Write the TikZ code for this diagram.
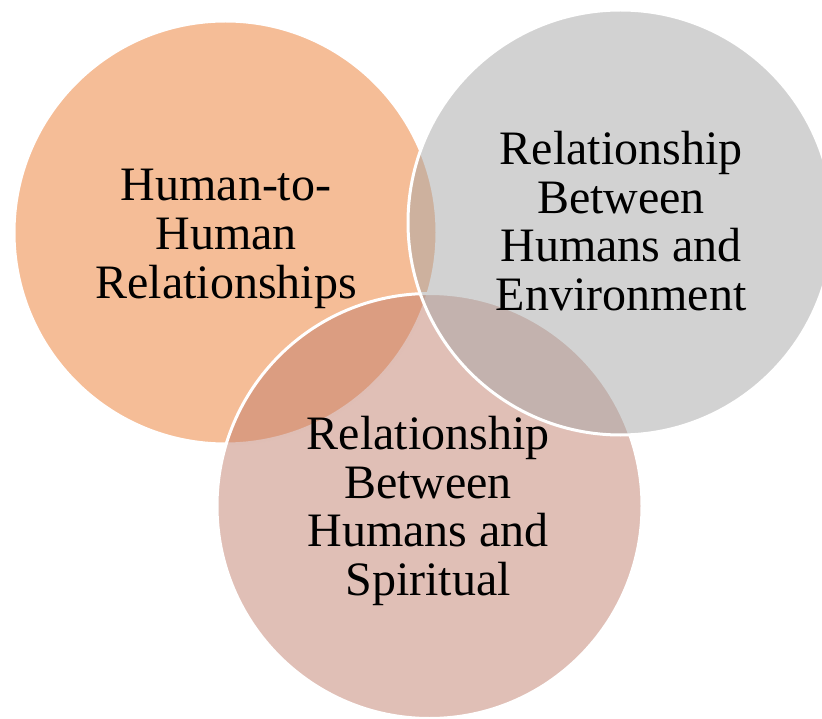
\documentclass[tikz,border=0pt]{standalone}
\usepackage{fontspec}
\setmainfont{Liberation Serif}
\definecolor{corange}{RGB}{235,123,47}
\definecolor{cgray}{RGB}{166,166,166}
\definecolor{cpink}{RGB}{193,127,109}
\tikzset{
  venn/.style={draw=white, line width=3pt, fill opacity=0.5, draw opacity=1},
  lbl/.style={align=center, inner sep=0pt, font=\fontsize{48}{48.7}\selectfont}
}
\begin{document}
\begin{tikzpicture}[x=1pt,y=-1pt]
\useasboundingbox (0,0) rectangle (822,719);
\clip (0,0) rectangle (822,719);
\path[venn, fill=corange] (225.5,232.5) circle (211.5);
\path[venn, fill=cpink] (429.5,506) circle (212.5);
\path[venn, fill=cgray] (620.5,222.5) circle (212.5);
\node[lbl] (t1) at (226,239) {Human-to-\\Human\\Relationships};
\node[lbl] (t2) at (621,221) {Relationship\\Between\\Humans and\\Environment};
\node[lbl] (t3) at (428,511) {Relationship\\Between\\Humans and\\Spiritual};
\end{tikzpicture}
\end{document}
